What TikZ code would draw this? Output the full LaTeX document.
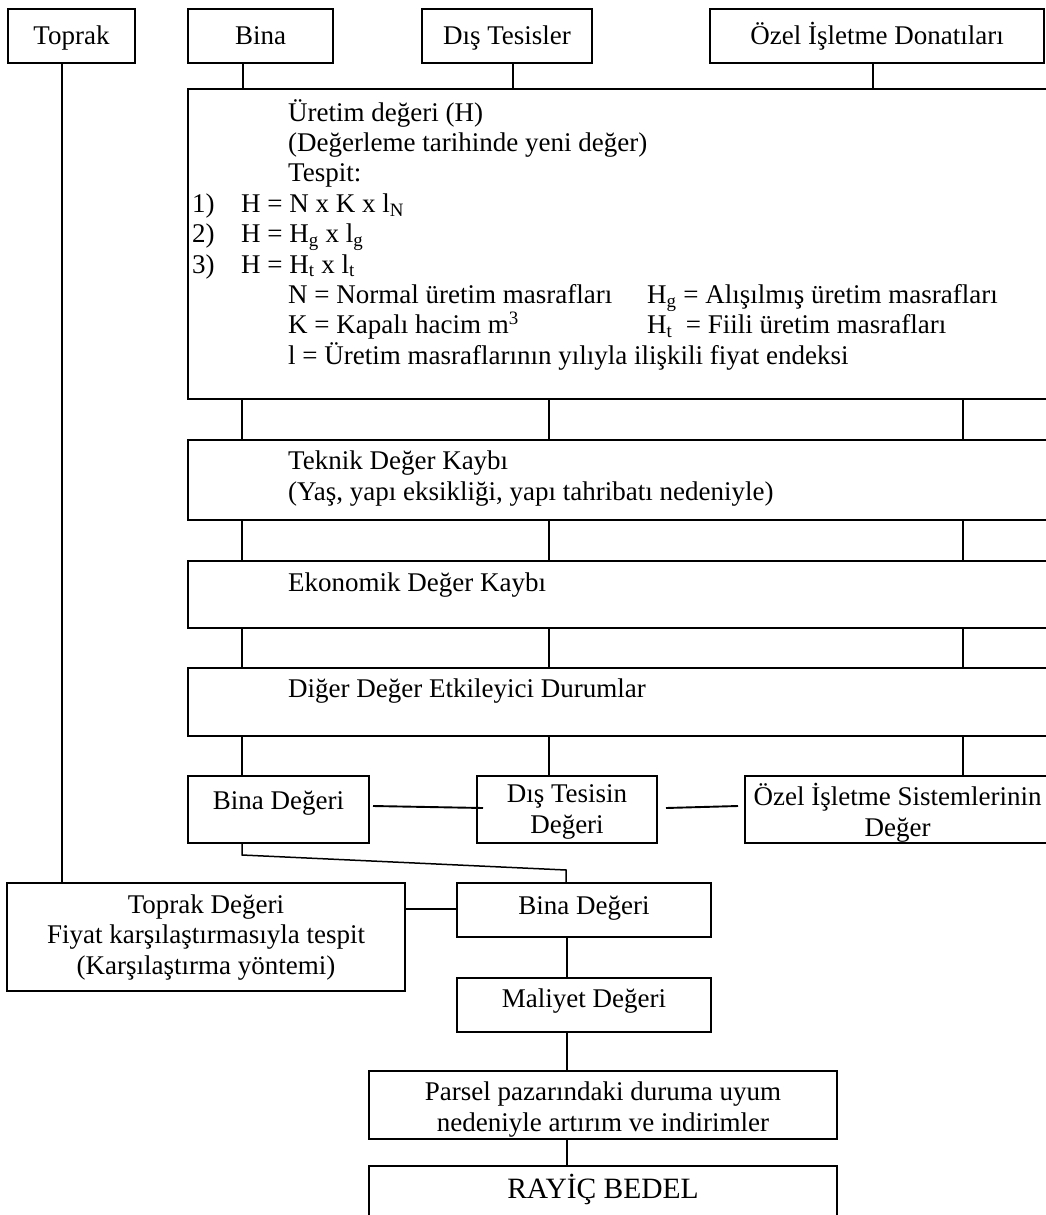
\documentclass[tikz,border=0pt]{standalone}
\usepackage{fontspec}
\setmainfont{Liberation Serif}
\usetikzlibrary{calc}
\begin{document}
\begin{tikzpicture}[x=1pt,y=-1pt,
  font=\fontsize{27}{30.4}\selectfont,
  box/.style={draw, line width=1.9pt, inner sep=0pt, outer sep=0pt, rectangle, align=center},
  link/.style={line width=1.5pt},
  lbl/.style={inner sep=0pt, anchor=base west},
  clbl/.style={inner sep=0pt, anchor=base, align=center}]
\useasboundingbox[fill=white] (0,0) rectangle (1046,1215);
\clip (0,0) rectangle (1046,1215);

% top row
\node[box, minimum width=127pt, minimum height=54pt] (toprak) at (71.5,36) {};
\node[clbl] (toprakt) at (71.5,45) {Toprak};
\node[box, minimum width=145pt, minimum height=54pt] (bina) at (260.5,36) {};
\node[clbl] (binat) at (260.5,45) {Bina};
\node[box, minimum width=170pt, minimum height=54pt] (dis) at (507,36) {};
\node[clbl] (dist) at (507,45) {Dış Tesisler};
\node[box, minimum width=334pt, minimum height=54pt] (ozel) at (877,36) {};
\node[clbl] (ozelt) at (877,45) {Özel İşletme Donatıları};

% wide boxes
\node[box, minimum width=872pt, minimum height=310pt] (main) at (624,244) {};
\node[box, minimum width=872pt, minimum height=80pt] (teknik) at (624,480) {};
\node[box, minimum width=872pt, minimum height=67pt] (ekon) at (624,594.5) {};
\node[box, minimum width=872pt, minimum height=68pt] (diger) at (624,702) {};

% main box text
\node[lbl] (m1) at (288,121) {Üretim değeri (H)};
\node[lbl] (m2) at (288,151.4) {(Değerleme tarihinde yeni değer)};
\node[lbl] (m3) at (288,181.8) {Tespit:};
\node[lbl] (n1) at (192,212.2) {1)};
\node[lbl] (m4) at (241,212.2) {H = N x K x l\textsubscript{N}};
\node[lbl] (n2) at (192,242.6) {2)};
\node[lbl] (m5) at (241,242.6) {H = H\textsubscript{g} x l\textsubscript{g}};
\node[lbl] (n3) at (192,273) {3)};
\node[lbl] (m6) at (241,273) {H = H\textsubscript{t} x l\textsubscript{t}};
\node[lbl] (m7) at (288,303.4) {N = Normal üretim masrafları};
\node[lbl] (m7b) at (647,303.4) {H\textsubscript{g} = Alışılmış üretim masrafları};
\node[lbl] (m8) at (288,333.8) {K = Kapalı hacim m\textsuperscript{3}};
\node[lbl] (m8b) at (647,333.8) {H\textsubscript{t}\ \ = Fiili üretim masrafları};
\node[lbl] (m9) at (288,364.2) {l = Üretim masraflarının yılıyla ilişkili fiyat endeksi};

\node[lbl] (k1) at (288,469) {Teknik Değer Kaybı};
\node[lbl] (k2) at (288,500) {(Yaş, yapı eksikliği, yapı tahribatı nedeniyle)};
\node[lbl] (e1) at (288,591) {Ekonomik Değer Kaybı};
\node[lbl] (d1) at (288,697) {Diğer Değer Etkileyici Durumlar};

% value row
\node[box, minimum width=181pt, minimum height=67pt] (bdeg) at (278.5,809.5) {};
\node[clbl] (bdegt) at (278.5,809) {Bina Değeri};
\node[box, minimum width=180pt, minimum height=67pt] (dtd) at (567,809.5) {};
\node[clbl] (dtdt) at (567,833) {Dış Tesisin\\Değeri};
\node[box, minimum width=305pt, minimum height=67pt] (ozs) at (897.5,809.5) {};
\node[clbl] (ozst) at (897.5,836) {Özel İşletme Sistemlerinin\\Değer};

% lower part
\node[box, minimum width=398pt, minimum height=108pt] (tdeg) at (206,937) {};
\node[clbl] (tdegt) at (206,974) {Toprak Değeri\\Fiyat karşılaştırmasıyla tespit\\(Karşılaştırma yöntemi)};
\node[box, minimum width=254pt, minimum height=54pt] (bdeg2) at (584,910) {};
\node[clbl] (bdeg2t) at (584,914) {Bina Değeri};
\node[box, minimum width=254pt, minimum height=54pt] (mal) at (584,1005) {};
\node[clbl] (malt) at (584,1007) {Maliyet Değeri};
\node[box, minimum width=468pt, minimum height=68pt] (parsel) at (603,1105) {};
\node[clbl] (parselt) at (603,1131) {Parsel pazarındaki duruma uyum\\nedeniyle artırım ve indirimler};
\node[box, minimum width=468pt, minimum height=64pt] (rayic) at (603,1198) {};
\node[clbl, font=\fontsize{29.5}{33}\selectfont] (rayict) at (603,1198) {RAYİÇ BEDEL};

% connectors
\draw[link] (62,0 |- toprak.south) -- (62,0 |- tdeg.north);
\draw[link] (243,0 |- bina.south) -- (243,0 |- main.north);
\draw[link] (513,0 |- dis.south) -- (513,0 |- main.north);
\draw[link] (873,0 |- ozel.south) -- (873,0 |- main.north);
\foreach \xx in {242,549,963} {
  \draw[link] (\xx,0 |- main.south) -- (\xx,0 |- teknik.north);
  \draw[link] (\xx,0 |- teknik.south) -- (\xx,0 |- ekon.north);
  \draw[link] (\xx,0 |- ekon.south) -- (\xx,0 |- diger.north);
}
\draw[link] (242,0 |- diger.south) -- (242,0 |- bdeg.north);
\draw[link] (549,0 |- diger.south) -- (549,0 |- dtd.north);
\draw[link] (963,0 |- diger.south) -- (963,0 |- ozs.north);
\draw[link, line width=1.9pt] ($(bdeg.east)+(4,-3.5)$) -- ($(dtd.west)+(6,-1.5)$);
\draw[link, line width=1.9pt] ($(dtd.east)+(9,-1.5)$) -- ($(ozs.west)+(-7,-3.5)$);
\coordinate (j1) at (242,855);
\coordinate (j2) at (566,870);
\draw[link] (242,0 |- bdeg.south) -- (j1) -- (j2) -- (566,0 |- bdeg2.north);
\draw[link] (tdeg.east |- 0,909) -- (bdeg2.west |- 0,909);
\draw[link] (567,0 |- bdeg2.south) -- (567,0 |- mal.north);
\draw[link] (567,0 |- mal.south) -- (567,0 |- parsel.north);
\draw[link] (567,0 |- parsel.south) -- (567,0 |- rayic.north);
\end{tikzpicture}
\end{document}
